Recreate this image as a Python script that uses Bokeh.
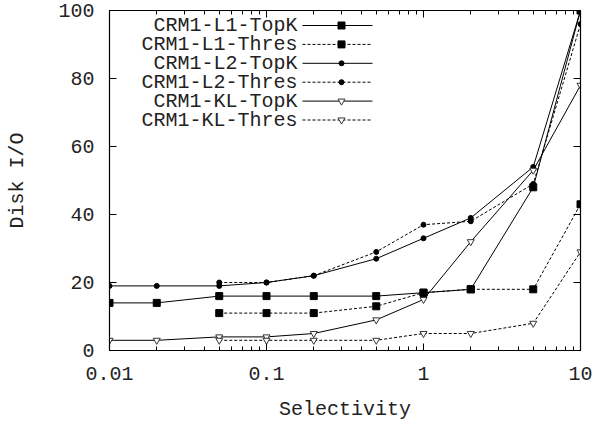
from bokeh.plotting import figure
from bokeh.models import (LinearAxis, LogAxis, FixedTicker, LogTicker,
                          CustomJSTickFormatter, Label, Range1d)
from bokeh.embed import file_html
from bokeh.resources import INLINE

# ---- data ----
sel_topk = [0.01, 0.02, 0.05, 0.1, 0.2, 0.5, 1, 2, 5, 10]
sel_thres = [0.05, 0.1, 0.2, 0.5, 1, 2, 5, 10]

l1_topk = [14, 14, 16, 16, 16, 16, 17, 18, 48, 100]
l1_thres = [11, 11, 11, 13, 17, 18, 18, 43]
l2_topk = [19, 19, 19, 20, 22, 27, 33, 39, 54, 100]
l2_thres = [20, 20, 22, 29, 37, 38, 49, 96]
kl_topk = [3, 3, 4, 4, 5, 9, 15, 32, 53, 78]
kl_thres = [3, 3, 3, 3, 5, 5, 8, 29]

names = ["CRM1-L1-TopK", "CRM1-L1-Thres", "CRM1-L2-TopK",
         "CRM1-L2-Thres", "CRM1-KL-TopK", "CRM1-KL-Thres"]
xs = [sel_topk, sel_thres, sel_topk, sel_thres, sel_topk, sel_thres]
ys = [l1_topk, l1_thres, l2_topk, l2_thres, kl_topk, kl_thres]

y_ticks = [0, 20, 40, 60, 80, 100]

# ---- styles ----
FONT = "Liberation Mono"
FS = "20px"
TXT = "#222222"
dashes = ["solid", "3 2", "solid", "3 2", "solid", "3 2"]
markers = ["square", "square", "circle", "circle",
           "inverted_triangle", "inverted_triangle"]
msizes = [7, 7, 5, 5, 7, 7]
mfill = ["black", "black", "black", "black", "white", "white"]
mline = ["black", "black", "black", "black", "#333333", "#333333"]

FW, FH = 471, 340
p = figure(width=599, height=423, frame_width=FW, frame_height=FH,
           x_axis_type="log",
           x_range=Range1d(0.01, 10), y_range=Range1d(0, 100),
           output_backend="svg", toolbar_location=None,
           min_border_left=109, min_border_right=19,
           min_border_top=10, min_border_bottom=73)
p.xgrid.visible = False
p.ygrid.visible = False
p.outline_line_color = "black"
p.outline_line_width = 1.2
p.background_fill_color = "white"
p.border_fill_color = "white"

for ax in (p.xaxis[0], p.yaxis[0]):
    ax.axis_line_color = "black"
    ax.major_tick_in = 7
    ax.major_tick_out = 0
    ax.minor_tick_in = 4
    ax.minor_tick_out = 0
    ax.major_label_text_font = FONT
    ax.major_label_text_font_size = FS
    ax.major_label_text_color = TXT
    ax.axis_label_text_font = FONT
    ax.axis_label_text_font_size = FS
    ax.axis_label_text_font_style = "normal"
    ax.axis_label_text_color = TXT

p.xaxis[0].ticker = LogTicker(num_minor_ticks=10)
p.xaxis[0].formatter = CustomJSTickFormatter(code="return String(+tick.toPrecision(6));")
p.xaxis[0].axis_label = "Selectivity"
p.xaxis[0].major_label_standoff = 16
p.xaxis[0].axis_label_standoff = 15

p.yaxis[0].ticker = FixedTicker(ticks=y_ticks, minor_ticks=[])
p.yaxis[0].axis_label = "Disk I/O"
p.yaxis[0].major_label_standoff = 15
p.yaxis[0].axis_label_standoff = 26

# mirror ticks on top and right
top = LogAxis(ticker=LogTicker(num_minor_ticks=10),
              formatter=CustomJSTickFormatter(code="return '';"),
              major_tick_in=7, major_tick_out=0, minor_tick_in=4, minor_tick_out=0,
              major_label_text_font_size="0px", major_label_standoff=0,
              axis_line_color="black")
p.add_layout(top, "above")
right = LinearAxis(ticker=FixedTicker(ticks=y_ticks, minor_ticks=[]),
                   formatter=CustomJSTickFormatter(code="return '';"),
                   major_tick_in=7, major_tick_out=0, minor_tick_out=0,
                   major_label_text_font_size="0px", major_label_standoff=0,
                   axis_line_color="black")
p.add_layout(right, "right")

for i in range(6):
    p.line(xs[i], ys[i], line_color="black", line_width=1, line_dash=dashes[i])
    p.scatter(xs[i], ys[i], marker=markers[i], size=msizes[i],
              fill_color=mfill[i], line_color=mline[i], line_width=1)

# ---- legend (custom: label on the left, sample on the right) ----
def px_to_x(px):
    return 10 ** (-2 + px / FW * 3)

def py_to_y(py):
    return 100 - py / FH * 100

LEG_TEXT_RIGHT = 188
LEG_LINE = (193, 263)
LEG_MARK = 232
LEG_ROW0 = 15
LEG_ROW_STEP = 18.9

for i, name in enumerate(names):
    yy = py_to_y(LEG_ROW0 + i * LEG_ROW_STEP)
    p.add_layout(Label(x=px_to_x(LEG_TEXT_RIGHT), y=yy, text=name,
                       text_align="right", text_baseline="middle",
                       text_font=FONT, text_font_size=FS, text_color=TXT))
    p.line([px_to_x(LEG_LINE[0]), px_to_x(LEG_LINE[1])], [yy, yy],
           line_color="black", line_width=1, line_dash=dashes[i])
    p.scatter([px_to_x(LEG_MARK)], [yy], marker=markers[i], size=msizes[i],
              fill_color=mfill[i], line_color=mline[i], line_width=1)

open("out.html", "w").write(file_html(p, INLINE))
